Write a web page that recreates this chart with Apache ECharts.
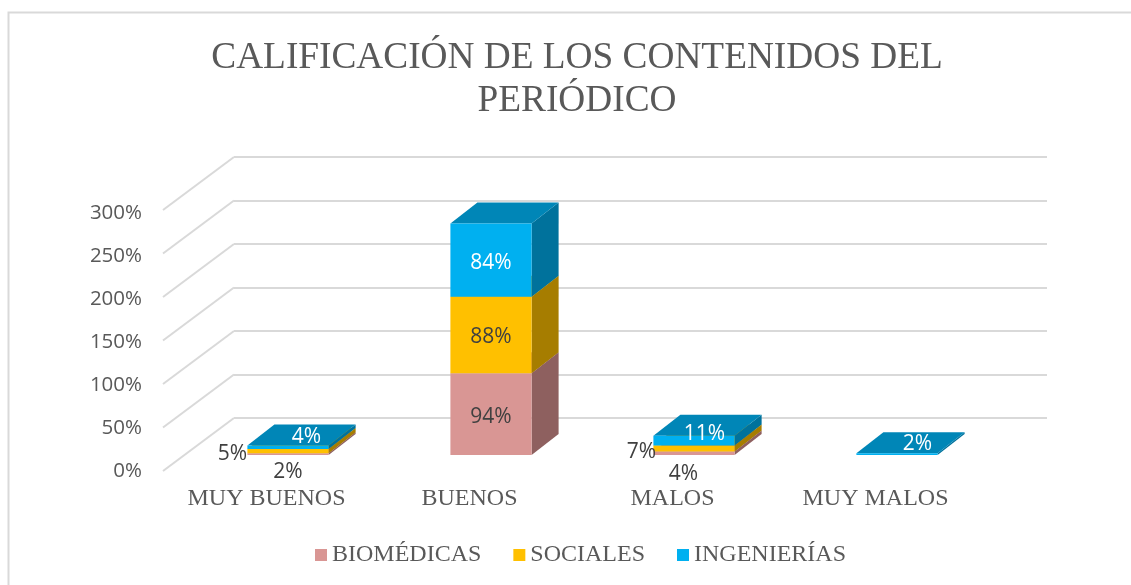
<!DOCTYPE html>
<html><head><meta charset="utf-8">
<style>html,body{margin:0;padding:0;background:#fff}#c{width:1131px;height:585px}</style>
<script src="https://cdn.jsdelivr.net/npm/echarts@6/dist/echarts.min.js"></script>
</head><body><div id="c"></div>
<script>
const titleText = 'CALIFICACIÓN DE LOS CONTENIDOS DEL\nPERIÓDICO';
const categories = ['MUY BUENOS', 'BUENOS', 'MALOS', 'MUY MALOS'];
const biomedicas = [2, 94, 4, 0];
const sociales = [5, 88, 7, 0];
const ingenierias = [4, 84, 11, 2];
const valueTicks = [0, 50, 100, 150, 200, 250, 300];

const SERIF = '"Liberation Serif", serif';
const SANS = '"Open Sans", sans-serif';
const GREY = '#595959', GRID = '#D9D9D9';
// depth projection of the 3D box
const WALL_START = -2, WALL = [71, -53], BAR_START = [21.5, -16], BAR_DEPTH = [27, -21];
// label nudges for thin segments, keyed by series then category
const labelNudge = {
  'BIOMÉDICAS': {0: [0, 0, 'below'], 2: [-10.5, 2, 'below']},
  'SOCIALES': {0: [-55.5, 2, 'abs'], 2: [-52.5, 1, 'abs']},
  'INGENIERÍAS': {0: [18.5, -8, 'top'], 2: [10.5, -2, 'top'], 3: [20.5, -9, 'top']}
};

function box(name, front, side, top, textColor) {
  return function (params, api) {
    const cat = api.value(0), lo = api.value(1), hi = api.value(2), val = api.value(3);
    if (!val) return {type: 'group', children: []};
    const p0 = api.coord([cat, lo]), p1 = api.coord([cat, hi]);
    const w = api.size([1, 0])[0] * 0.4;
    const xL = p0[0] + BAR_START[0] - w / 2, xR = xL + w;
    const yB = p0[1] + BAR_START[1], yT = p1[1] + BAR_START[1];
    const dx = BAR_DEPTH[0], dy = BAR_DEPTH[1];
    const children = [
      {type: 'polygon', shape: {points: [[xR, yB], [xR + dx, yB + dy], [xR + dx, yT + dy], [xR, yT]]}, style: {fill: side}},
      {type: 'polygon', shape: {points: [[xL, yT], [xR, yT], [xR + dx, yT + dy], [xL + dx, yT + dy]]}, style: {fill: top}},
      {type: 'rect', shape: {x: xL, y: yT, width: w, height: Math.max(yB - yT, 1.5)}, style: {fill: front}}
    ];
    const cx = (xL + xR) / 2;
    let lx = cx, ly = (yB + yT) / 2 + 2.5, color = textColor;
    const n = labelNudge[name][cat];
    if (n) {
      lx = cx + n[0];
      if (n[2] === 'below') { ly = p0[1] + BAR_START[1] + 17 + n[1]; color = '#404040'; }
      else if (n[2] === 'abs') { ly = yB - 1 + n[1]; color = '#404040'; }
      else { ly = yT + n[1]; }
    }
    children.push({type: 'text', z2: 10, style: {
      x: lx, y: ly, text: val + '%', fill: color, font: '21px ' + SANS,
      align: 'center', verticalAlign: 'middle'
    }});
    return {type: 'group', children};
  };
}

function stackData(own, below) {
  return categories.map((c, i) => {
    const base = below.reduce((s, arr) => s + arr[i], 0);
    return [i, base, base + own[i], own[i]];
  });
}

function barSeries(name, own, below, front, side, top, textColor) {
  return {
    name, type: 'custom', xAxisIndex: 0, yAxisIndex: 0, z: 5, silent: true,
    itemStyle: {color: front},
    encode: {x: 0, y: 2},
    data: stackData(own, below),
    renderItem: box(name, front, side, top, textColor)
  };
}

const chart = echarts.init(document.getElementById('c'), null, {renderer: 'canvas'});
chart.setOption({
  animation: false,
  backgroundColor: '#fff',
  graphic: [{type: 'rect', z: 0, silent: true,
    shape: {x: 8.5, y: 12.5, width: 1300, height: 800},
    style: {fill: 'none', stroke: GRID, lineWidth: 2}}],
  title: {
    text: titleText, left: 572, top: 32, textAlign: 'center',
    textStyle: {fontFamily: SERIF, fontWeight: 'normal', fontSize: 37.3, lineHeight: 43, color: GREY}
  },
  legend: {
    left: 310, top: 538, itemWidth: 12, itemHeight: 12, itemGap: 32, selectedMode: false, icon: 'rect',
    data: ['BIOMÉDICAS', 'SOCIALES', 'INGENIERÍAS'],
    textStyle: {fontFamily: SERIF, fontSize: 24, color: GREY}
  },
  grid: [
    {left: 165, top: 210, width: 812, height: 261},
    {left: 234, top: 157, width: 813, height: 261},
    {left: 165, top: 213, width: 812, height: 258}
  ],
  xAxis: [
    {type: 'category', gridIndex: 0, data: categories,
      axisLine: {show: false}, axisTick: {show: false}, splitLine: {show: false},
      axisLabel: {fontFamily: SERIF, fontSize: 24, color: GREY, margin: 16, interval: 0}},
    {type: 'category', gridIndex: 1, data: categories, show: false},
    {type: 'category', gridIndex: 2, data: categories, show: false}
  ],
  yAxis: [
    {type: 'value', gridIndex: 0, min: 0, max: 300, interval: 50, show: false},
    {type: 'value', gridIndex: 1, min: 0, max: 300, interval: 50,
      axisLine: {show: false}, axisTick: {show: false}, axisLabel: {show: false},
      splitLine: {show: true, lineStyle: {color: GRID, width: 2}}},
    {type: 'value', gridIndex: 2, min: 0, max: 300, interval: 50,
      axisLine: {show: false}, axisTick: {show: false}, splitLine: {show: false},
      axisLabel: {fontFamily: SANS, fontSize: 20.5, color: GREY, margin: 23, formatter: '{value}%'}}
  ],
  series: [
    {type: 'custom', name: 'wall', xAxisIndex: 0, yAxisIndex: 0, z: 1, silent: true,
      encode: {y: 0}, data: valueTicks.map(v => [v]),
      renderItem(params, api) {
        const p = api.coord([0, api.value(0)]);
        const x0 = params.coordSys.x + WALL_START;
        return {type: 'line', shape: {x1: x0, y1: p[1], x2: x0 + WALL[0], y2: p[1] + WALL[1]},
          style: {stroke: GRID, lineWidth: 2, fill: 'none'}};
      }},
    barSeries('BIOMÉDICAS', biomedicas, [], '#D99694', '#8E605F', '#B27B7A', '#404040'),
    barSeries('SOCIALES', sociales, [biomedicas], '#FFC000', '#A67D00', '#CC9A00', '#404040'),
    barSeries('INGENIERÍAS', ingenierias, [biomedicas, sociales], '#00B0F0', '#00729C', '#0086B7', '#FFFFFF')
  ]
});
</script></body></html>
